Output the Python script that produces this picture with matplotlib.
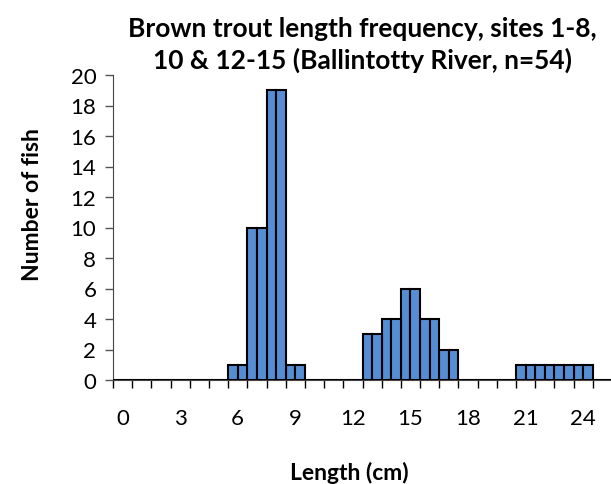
import matplotlib
matplotlib.use("Agg")
import matplotlib.pyplot as plt
import numpy as np

# length classes (cm) and number of fish in each
lengths = np.arange(0, 26)
counts = [0, 0, 0, 0, 0, 0, 1, 10, 19, 1, 0, 0, 0, 3, 4, 6, 4, 2, 0, 0, 0, 1, 1, 1, 1, 0]
tick_labels = [0, 3, 6, 9, 12, 15, 18, 21, 24]

plt.rcParams['font.family'] = ['Lato', 'DejaVu Sans']

W, H = 611, 485
fig = plt.figure(figsize=(W / 100, H / 100), dpi=100)
ax = fig.add_axes([113 / W, 1 - 381 / H, 499 / W, 305 / H])

counts = np.array(counts)
# each class drawn as two half-width bars, as in the original
ax.bar(lengths - 0.25, counts, width=0.5, color="#558ED5", edgecolor="black", linewidth=1.5, zorder=3)
ax.bar(lengths + 0.25, counts, width=0.5, color="#558ED5", edgecolor="black", linewidth=1.5, zorder=3)

ax.set_xlim(-0.5, 25.5)
ax.set_ylim(0, 20)
ax.set_yticks(range(0, 21, 2))
ax.set_xticks(tick_labels)
ax.set_xticklabels([str(t) for t in tick_labels])
ax.set_xticks(np.arange(-0.5, 25, 1), minor=True)
ax.tick_params(axis="x", which="major", length=0, pad=20, labelsize=16)
ax.tick_params(axis="x", which="minor", length=6, width=1, color="black", direction="out")
ax.tick_params(axis="y", length=6, width=1, color="#555555", pad=6, labelsize=16)

for s in ["top", "right"]:
    ax.spines[s].set_visible(False)
ax.spines["left"].set_color("#444444")
ax.spines["bottom"].set_color("#444444")

ax.set_title("Brown trout length frequency, sites 1-8,\n10 & 12-15 (Ballintotty River, n=54)",
             fontsize=19, fontweight="bold", pad=5, linespacing=1.35)
fig.text(349 / W, 1 - 473 / H, "Length (cm)", fontsize=16.5, fontweight="bold", ha="center", va="center")
fig.text(33 / W, 1 - 205 / H, "Number of fish", fontsize=16.5, fontweight="bold",
         ha="center", va="center", rotation=90)

fig.savefig("out.png", dpi=100)
